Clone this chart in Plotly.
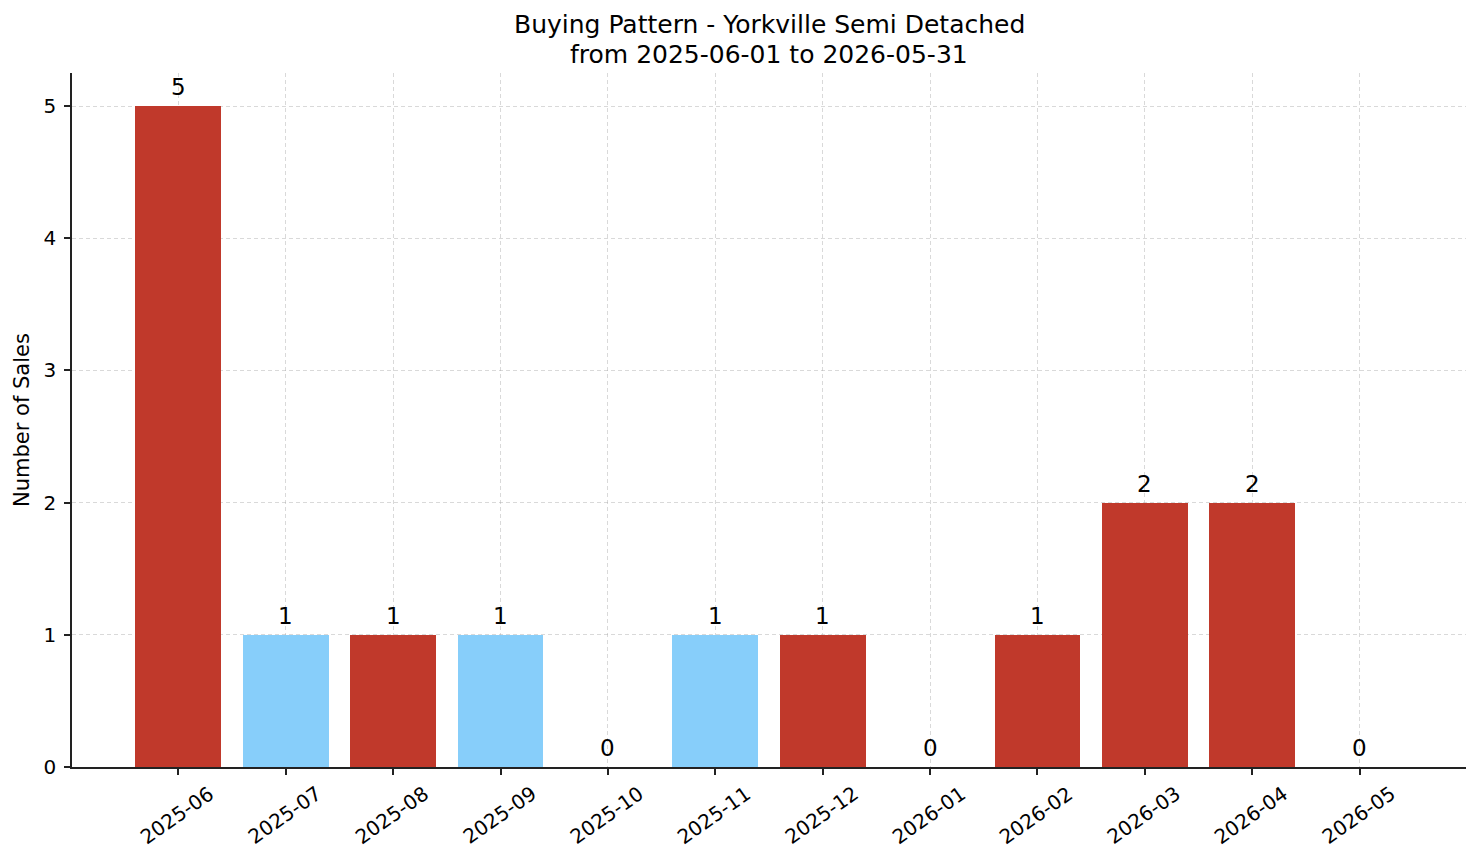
import plotly.graph_objects as go

months = ["2025-06", "2025-07", "2025-08", "2025-09", "2025-10", "2025-11",
          "2025-12", "2026-01", "2026-02", "2026-03", "2026-04", "2026-05"]
sales = [5, 1, 1, 1, 0, 1, 1, 0, 1, 2, 2, 0]
bar_colors = ["#C0392B", "#87CEFA", "#C0392B", "#87CEFA", "#C0392B", "#87CEFA",
              "#C0392B", "#C0392B", "#C0392B", "#C0392B", "#C0392B", "#C0392B"]
y_ticks = [0, 1, 2, 3, 4, 5]
title_line1 = "Buying Pattern - Yorkville Semi Detached"
title_line2 = "from 2025-06-01 to 2026-05-31"
y_title = "Number of Sales"

FONT = "DejaVu Sans"
W, H = 1481, 863
ML, MR, MT, MB = 72, 15, 73, 96
PH = H - MT - MB

fig = go.Figure()
fig.add_trace(go.Bar(
    x=list(range(len(months))), y=sales, width=0.8,
    marker=dict(color=bar_colors, line=dict(width=0)),
    hoverinfo="skip", showlegend=False,
))

annotations = []
# value labels above bars
for i, v in enumerate(sales):
    annotations.append(dict(
        x=i, y=v, xref="x", yref="y", text=str(v), showarrow=False,
        yanchor="bottom", yshift=4, font=dict(family=FONT, size=23, color="black"),
    ))
# x tick labels (rotated, centred on tick)
for i, m in enumerate(months):
    annotations.append(dict(
        x=i, y=0, xref="x", yref="paper", text=m, showarrow=False,
        textangle=-35, xanchor="center", yanchor="middle", yshift=-48, xshift=-1,
        font=dict(family=FONT, size=20, color="black"),
    ))
# title lines
for txt, ypx in [(title_line1, 25), (title_line2, 54)]:
    annotations.append(dict(
        x=0.5, y=(H - MB - ypx) / PH, xref="paper", yref="paper", text=txt,
        showarrow=False, xanchor="center", yanchor="middle",
        font=dict(family=FONT, size=25, color="black"),
    ))
# y axis title
annotations.append(dict(
    x=0, y=0.5, xref="paper", yref="paper", text=y_title, showarrow=False,
    textangle=-90, xanchor="center", yanchor="middle", xshift=-(ML - 22),
    font=dict(family=FONT, size=21, color="black"),
))

fig.update_layout(
    width=W, height=H,
    paper_bgcolor="white", plot_bgcolor="white",
    margin=dict(l=ML, r=MR, t=MT, b=MB),
    font=dict(family=FONT, size=20, color="black"),
    annotations=annotations,
    bargap=0,
)

grid_color = "rgba(170,170,170,0.45)"
fig.update_xaxes(
    range=[-0.99, 11.99],
    tickmode="array", tickvals=list(range(len(months))), showticklabels=False,
    ticks="outside", ticklen=6, tickwidth=1.5, tickcolor="#222",
    showline=True, linecolor="#222", linewidth=1.5,
    showgrid=True, gridcolor=grid_color, griddash="4px,3px", gridwidth=0.8,
    zeroline=False, layer="above traces",
)
fig.update_yaxes(
    range=[0, 5.25],
    tickmode="array", tickvals=y_ticks,
    ticks="outside", ticklen=6, tickwidth=1.5, tickcolor="#222",
    showline=True, linecolor="#222", linewidth=1.5,
    showgrid=True, gridcolor=grid_color, griddash="4px,3px", gridwidth=0.8,
    zeroline=False, layer="above traces", ticklabelstandoff=4,
    tickfont=dict(family=FONT, size=20, color="black"),
)

fig.write_html("out.html")
